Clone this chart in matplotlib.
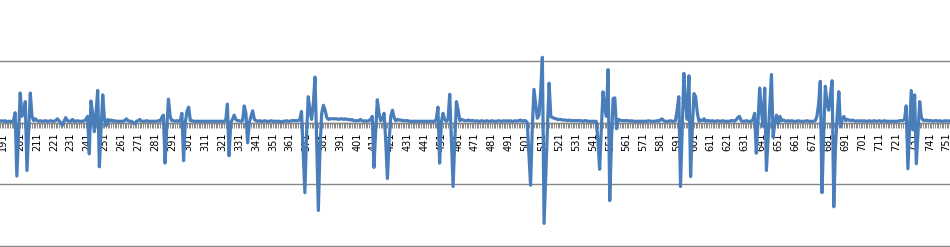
import numpy as np
import matplotlib
matplotlib.use("Agg")
import matplotlib.pyplot as plt

# category range shown
first_category = 189
values = [
    0.02, 0.03,                                                   # 189-190
    0.02, 0.03, 0.01, 0.02, 0.02, 0.01, 0.03, 0.16, -0.87, -0.2,  # 191-200
    0.48, 0.1, 0.15, 0.34, -0.78, -0.15, 0.48, 0.1, 0.03, 0.06,   # 201-210
    0.03, 0.02, 0.03, 0.02, 0.02, 0.03, 0.02, 0.02, 0.03, 0.02,   # 211-220
    0.02, 0.03, 0.06, 0.03, 0.0, -0.05, 0.02, 0.08, 0.03, 0.02,   # 221-230
    0.02, 0.05, 0.02, 0.02, 0.03, 0.02, 0.02, 0.02, 0.03, 0.05,   # 231-240
    0.1, -0.51, 0.35, 0.15, -0.15, 0.15, 0.52, -0.72, -0.1, 0.45, # 241-250
    0.05, -0.05, 0.05, 0.02, 0.04, 0.02, 0.03, 0.02, 0.02, 0.02,  # 251-260
    0.02, 0.02, 0.03, 0.06, 0.03, 0.02, 0.02, 0.0, -0.02, 0.02,   # 261-270
    0.03, 0.05, 0.02, 0.02, 0.02, 0.03, 0.02, 0.02, 0.02, 0.02,   # 271-280
    0.02, 0.02, 0.03, 0.02, 0.08, 0.12, -0.66, -0.1, 0.38, 0.1,   # 281-290
    0.03, 0.03, 0.02, 0.03, 0.02, 0.03, 0.15, -0.62, 0.0, 0.18,   # 291-300
    0.25, 0.03, 0.03, 0.02, 0.02, 0.02, 0.02, 0.02, 0.02, 0.02,   # 301-310
    0.02, 0.02, 0.02, 0.02, 0.02, 0.02, 0.02, 0.02, 0.02, 0.02,   # 311-320
    0.02, 0.02, 0.03, 0.3, -0.54, 0.0, 0.05, 0.12, 0.05, 0.03,    # 321-330
    0.03, 0.02, 0.03, 0.27, 0.15, -0.33, 0.0, 0.1, 0.19, 0.05,    # 331-340
    0.03, 0.02, 0.03, 0.02, 0.02, 0.03, 0.02, 0.02, 0.02, 0.03,   # 341-350
    0.02, 0.02, 0.02, 0.02, 0.02, 0.01, 0.02, 0.02, 0.03, 0.02,   # 351-360
    0.02, 0.03, 0.03, 0.03, 0.03, 0.03, 0.05, 0.18, -0.5, -1.14,  # 361-370
    -0.2, 0.42, 0.2, 0.05, 0.3, 0.74, -0.3, -1.43, -0.4, 0.15,    # 371-380
    0.28, 0.2, 0.08, 0.05, 0.06, 0.06, 0.06, 0.06, 0.06, 0.05,    # 381-390
    0.06, 0.06, 0.05, 0.06, 0.05, 0.05, 0.04, 0.05, 0.03, 0.03,   # 391-400
    0.03, 0.03, 0.05, 0.03, 0.02, 0.03, 0.02, 0.03, 0.05, 0.1,    # 401-410
    -0.73, -0.15, 0.37, 0.15, 0.03, 0.05, 0.15, -0.3, -0.91, -0.3, # 411-420
    0.1, 0.2, 0.08, 0.03, 0.05, 0.04, 0.04, 0.03, 0.03, 0.03,     # 421-430
    0.03, 0.02, 0.02, 0.02, 0.02, 0.02, 0.02, 0.02, 0.02, 0.02,   # 431-440
    0.02, 0.02, 0.02, 0.02, 0.02, 0.02, 0.02, 0.05, 0.25, -0.66,  # 441-450
    0.0, 0.15, 0.05, 0.02, 0.05, 0.46, -0.3, -1.04, -0.3, 0.34,   # 451-460
    0.2, 0.03, 0.05, 0.04, 0.03, 0.03, 0.04, 0.03, 0.03, 0.03,    # 461-470
    0.02, 0.03, 0.02, 0.02, 0.03, 0.02, 0.02, 0.03, 0.02, 0.02,   # 471-480
    0.03, 0.02, 0.02, 0.02, 0.03, 0.02, 0.02, 0.03, 0.02, 0.03,   # 481-490
    0.02, 0.03, 0.02, 0.02, 0.03, 0.02, 0.03, 0.04, 0.02, 0.03,   # 491-500
    0.03, 0.0, -0.5, -1.02, -0.1, 0.54, 0.3, 0.07, 0.12, 0.5,     # 501-510
    1.06, -1.64, -0.85, -0.1, 0.64, 0.1, 0.08, 0.07, 0.06, 0.05,  # 511-520
    0.05, 0.05, 0.04, 0.04, 0.04, 0.03, 0.04, 0.03, 0.03, 0.03,   # 521-530
    0.03, 0.03, 0.03, 0.03, 0.02, 0.03, 0.03, 0.02, 0.02, 0.02,   # 531-540
    0.02, 0.02, 0.02, -0.3, -0.76, -0.1, 0.5, 0.25, 0.1, 0.86,    # 541-550
    -1.27, -0.3, 0.39, 0.4, -0.1, 0.05, 0.04, 0.03, 0.03, 0.03,   # 551-560
    0.03, 0.03, 0.02, 0.03, 0.02, 0.02, 0.02, 0.02, 0.02, 0.02,   # 561-570
    0.02, 0.02, 0.02, 0.03, 0.02, 0.02, 0.02, 0.02, 0.03, 0.02,   # 571-580
    0.04, 0.06, 0.03, 0.02, 0.02, 0.02, 0.03, 0.02, 0.02, 0.03,   # 581-590
    0.2, 0.42, -1.04, -0.1, 0.8, 0.3, 0.05, 0.76, -0.88, -0.1,    # 591-600
    0.47, 0.42, 0.15, 0.02, 0.04, 0.03, 0.06, 0.02, 0.03, 0.03,   # 601-610
    0.02, 0.03, 0.02, 0.02, 0.03, 0.02, 0.02, 0.03, 0.02, 0.02,   # 611-620
    0.02, 0.02, 0.03, 0.03, 0.02, 0.04, 0.08, 0.1, 0.03, 0.02,    # 621-630
    0.02, 0.03, 0.02, 0.02, 0.02, 0.05, 0.15, -0.5, 0.0, 0.56,    # 631-640
    0.2, -0.06, 0.56, -0.78, -0.26, 0.26, 0.78, -0.24, 0.0, 0.12, # 641-650
    -0.02, 0.1, 0.03, 0.04, 0.03, 0.02, 0.03, 0.02, 0.03, 0.02,   # 651-660
    0.02, 0.02, 0.03, 0.02, 0.02, 0.02, 0.02, 0.03, 0.02, 0.02,   # 661-670
    0.02, 0.02, 0.03, 0.1, 0.3, 0.67, -1.14, -0.2, 0.59, 0.3,     # 671-680
    0.2, 0.45, 0.68, -1.37, -0.4, 0.1, 0.5, -0.07, 0.05, 0.1,     # 681-690
    0.03, 0.05, 0.04, 0.03, 0.04, 0.03, 0.02, 0.03, 0.02, 0.03,   # 691-700
    0.02, 0.03, 0.02, 0.02, 0.03, 0.02, 0.02, 0.03, 0.02, 0.02,   # 701-710
    0.03, 0.02, 0.02, 0.03, 0.02, 0.02, 0.02, 0.02, 0.02, 0.02,   # 711-720
    0.02, 0.02, 0.03, 0.03, 0.03, 0.05, 0.27, -0.75, -0.1, 0.52,  # 721-730
    -0.12, 0.45, -0.67, -0.15, 0.34, 0.08, 0.04, 0.03, 0.04, 0.03, # 731-740
    0.03, 0.03, 0.02, 0.03, 0.03, 0.02, 0.03, 0.02, 0.02, 0.03,   # 741-750
    0.02, 0.03, 0.02,                                             # 751-753
]
categories = np.arange(first_category, first_category + len(values))
label_categories = list(range(191, 752, 10))
tick_labels = [str(c) for c in label_categories]
gridline_values = [-2, -1, 0, 1]

LINE_COLOR = "#4A7EBB"
GRID_COLOR = "#868686"

fig = plt.figure(figsize=(9.5, 2.47), dpi=100)
ax = fig.add_axes([0, 0, 1, 1])

ax.set_xlim(189.04, 752.6)
ax.set_ylim(-2.024, 1.992)

for v in gridline_values:
    ax.axhline(v, color=GRID_COLOR, lw=1.0, zorder=1)

for s in ("left", "right", "top"):
    ax.spines[s].set_visible(False)
ax.spines["bottom"].set_position(("data", 0))
ax.spines["bottom"].set_color(GRID_COLOR)
ax.spines["bottom"].set_linewidth(1.0)
ax.spines["bottom"].set_zorder(2)

ax.set_yticks([])
ax.set_xticks(label_categories)
ax.set_xticklabels(tick_labels, rotation=90, fontsize=7, color="black")
ax.set_xticks(categories, minor=True)
ax.tick_params(axis="x", which="both", direction="out", length=3.6,
               width=0.7, color=GRID_COLOR, pad=3.4)

ax.plot(categories, values, color=LINE_COLOR, lw=2.3, zorder=3,
        solid_joinstyle="round", solid_capstyle="round")

fig.savefig("out.png", dpi=100)
